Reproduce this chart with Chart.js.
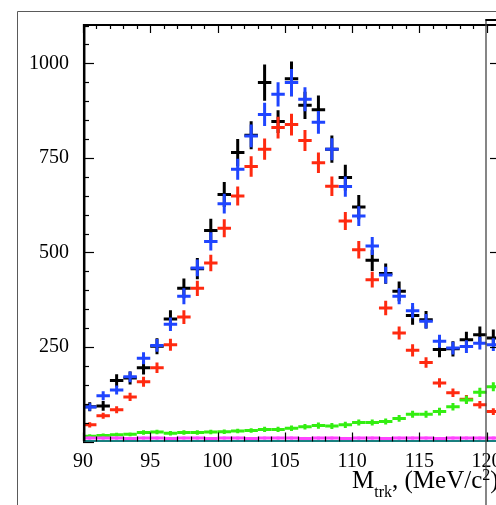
<!DOCTYPE html>
<html><head><meta charset="utf-8">
<script src="https://cdn.jsdelivr.net/npm/chart.js@4.4.0/dist/chart.umd.min.js"></script>
<style>html,body{margin:0;padding:0;background:#fff;overflow:hidden}#wrap{width:496px;height:505px;position:relative}</style>
</head><body><div id="wrap"><canvas id="c" width="496" height="505"></canvas></div>
<script>
// ---- data ----
const binCenters = [90.5,91.5,92.5,93.5,94.5,95.5,96.5,97.5,98.5,99.5,100.5,101.5,102.5,103.5,104.5,105.5,106.5,107.5,108.5,109.5,110.5,111.5,112.5,113.5,114.5,115.5,116.5,117.5,118.5,119.5,120.5];
const xTickLabels = [90,95,100,105,110,115,120];
const yTickLabels = [250,500,750,1000];

const blackVals = [92,94,161,168,195,252,324,405,457,558,653,764,810,949,846,959,889,877,773,698,620,479,444,397,333,322,243,245,269,282,274];
const blackErr  = [12,13,17,17,18,21,23,26,28,31,33,36,37,48,30,46,36,38,36,34,32,28,27,26,24,23,20,20,21,22,22];

const blueVals  = [91,121,136,171,220,254,310,384,459,529,629,720,808,865,918,949,905,844,773,674,596,517,440,384,346,318,265,247,251,260,256];
const blueErr   = [10,12,12,14,16,17,18,21,22,24,26,28,30,31,32,36,32,30,29,27,26,24,22,21,20,19,17,17,17,17,17];

const redVals   = [44,68,84,118,158,195,256,329,405,472,564,649,727,773,830,838,796,737,675,583,507,428,353,287,241,209,155,129,112,97,79];
const redErr    = [7,8,9,11,13,14,16,18,20,22,24,25,27,28,29,29,28,27,26,24,23,21,19,17,16,14,12,11,11,10,9];

const greenVals = [14,16,18,19,24,25,22,24,24,25,26,28,29,32,32,35,39,42,41,44,50,50,53,61,72,72,79,92,110,130,145];
const greenErr  = [5,5,5,5,6,6,6,6,6,6,6,6,6,7,7,7,7,8,8,8,8,8,8,9,9,9,10,10,11,12,12];

const magentaVals = [9,9,9,8,9,9,8,9,9,8,9,9,8,9,9,9,8,9,9,8,9,9,8,9,9,9,8,9,9,9,9];
const cyanVals    = [1,1,1,1,1,1,1,1,1,1,1,1,1,1,1,1,1,1,1,1,1,1,1,1,1,1,1,1,1,1,1];

const pts = vals => vals.map((v,i)=>({x:binCenters[i], y:v}));

function mk(label, vals, errs, color, w, marker){
  return {label, data: pts(vals), errors: errs, borderColor: color, backgroundColor: color,
    crossWidth: w, marker: marker||0, pointRadius: 0, showLine: false};
}

const crossPlugin = {
  id: 'crosses',
  afterDatasetsDraw(chart){
    const {ctx, chartArea:a, scales:{x, y}} = chart;
    ctx.save();
    ctx.beginPath(); ctx.rect(a.left, a.top, a.right-a.left, a.bottom-a.top+3); ctx.clip();
    chart.data.datasets.forEach((ds, i) => {
      ctx.strokeStyle = ds.borderColor; ctx.fillStyle = ds.borderColor;
      ctx.lineWidth = ds.crossWidth; ctx.lineCap = 'butt';
      ds.data.forEach((p, j) => {
        const px = x.getPixelForValue(p.x), py = y.getPixelForValue(p.y);
        const xl = x.getPixelForValue(p.x-0.5), xr = x.getPixelForValue(p.x+0.5);
        ctx.beginPath(); ctx.moveTo(xl, py); ctx.lineTo(xr, py);
        const e = ds.errors ? ds.errors[j] : 0;
        if (e){ ctx.moveTo(px, y.getPixelForValue(p.y-e)); ctx.lineTo(px, y.getPixelForValue(p.y+e)); }
        ctx.stroke();
        if (ds.marker){ ctx.fillRect(px-ds.marker, py-ds.marker, ds.marker*2, ds.marker*2); }
      });
    });
    ctx.restore();
  },
  afterDraw(chart){
    const {ctx, chartArea:a, scales:{x, y}} = chart;
    const line=(x1,y1,x2,y2)=>{ctx.beginPath();ctx.moveTo(x1,y1);ctx.lineTo(x2,y2);ctx.stroke();};
    ctx.save();
    // outer pad frame
    ctx.strokeStyle='#5a5a5a'; ctx.lineWidth=1;
    line(17.5,505,17.5,11.5); line(17.5,11.5,496,11.5);
    // axes
    ctx.strokeStyle='#000';
    ctx.lineWidth=1; line(a.left, a.bottom-0.5, a.right, a.bottom-0.5);
    ctx.lineWidth=2.5; line(a.left+1.2, a.bottom, a.left+1.2, a.top);
    ctx.lineWidth=2; line(a.left, a.top+1, a.right, a.top+1);
    // ticks
    ctx.lineWidth=1.2;
    for (let v=0; v<=1100; v+=50){
      const py=Math.round(y.getPixelForValue(v))+0.5;
      line(a.left, py, a.left+(v%250===0?11:6), py);
    }
    for (let v=90; v<=121; v++){
      const px=Math.round(x.getPixelForValue(v))+0.5;
      const len=(v%5===0)?9:5;
      line(px, a.top, px, a.top+len);
      line(px, a.bottom, px, a.bottom-len);
    }
    // neighbouring pad edge
    ctx.strokeStyle='#444'; ctx.lineWidth=1.3;
    line(486, 19, 486, 505);
    ctx.strokeStyle='#000'; ctx.lineWidth=2;
    line(485.5, 20, 496, 20);
    ctx.lineWidth=1.2;
    yTickLabels.forEach(v=>{ const py=Math.round(y.getPixelForValue(v))+0.5; line(490, py, 496, py); });
    // axis title
    ctx.fillStyle='#000'; ctx.textBaseline='alphabetic'; ctx.textAlign='left';
    let cx=352;
    ctx.font='25px "Liberation Serif"'; ctx.fillText('M', cx, 488); cx+=ctx.measureText('M').width;
    ctx.font='16px "Liberation Serif"'; ctx.fillText('trk', cx, 497); cx+=ctx.measureText('trk').width;
    ctx.font='25px "Liberation Serif"'; ctx.fillText(', (MeV/c', cx, 488); cx+=ctx.measureText(', (MeV/c').width;
    ctx.font='16px "Liberation Serif"'; ctx.fillText('2', cx, 480); cx+=ctx.measureText('2').width;
    ctx.font='25px "Liberation Serif"'; ctx.fillText(')', cx, 488);
    ctx.restore();
  }
};

new Chart(document.getElementById('c'), {
  type: 'scatter',
  data: { datasets: [
    mk('black', blackVals, blackErr, '#000000', 3),
    mk('blue', blueVals, blueErr, '#1f45ff', 3),
    mk('red', redVals, redErr, '#ff2a10', 3),
    mk('green', greenVals, greenErr, '#33ee11', 3),
    mk('magenta', magentaVals, null, '#ff44ff', 3, 1.5),
    mk('cyan', cyanVals, null, '#33ffff', 2)
  ]},
  options: {
    responsive: false, animation: false, devicePixelRatio: 1,
    layout: { padding: { top: 24, left: 0, right: 0, bottom: 0 } },
    plugins: { legend: { display: false }, tooltip: { enabled: false } },
    scales: {
      x: { type: 'linear', min: 90, max: 120.7,
        grid: { display: false, drawTicks: false }, border: { display: false },
        afterBuildTicks: s => { s.ticks = xTickLabels.map(v=>({value:v})); },
        afterFit: s => { s.height = 505-441.5; s.paddingLeft = 0; s.paddingRight = 0; },
        ticks: { padding: 8, color: '#000', maxRotation: 0, autoSkip: false,
          font: { family: '"Liberation Serif"', size: 20 }, callback: v => String(v) } },
      y: { type: 'linear', min: 0, max: 1104,
        grid: { display: false, drawTicks: false }, border: { display: false },
        afterBuildTicks: s => { s.ticks = yTickLabels.map(v=>({value:v})); },
        afterFit: s => { s.width = 83; s.paddingTop = 0; s.paddingBottom = 0; },
        ticks: { padding: 14, color: '#000', autoSkip: false,
          font: { family: '"Liberation Serif"', size: 20 }, callback: v => String(v) } }
    }
  },
  plugins: [crossPlugin]
});
</script></body></html>
